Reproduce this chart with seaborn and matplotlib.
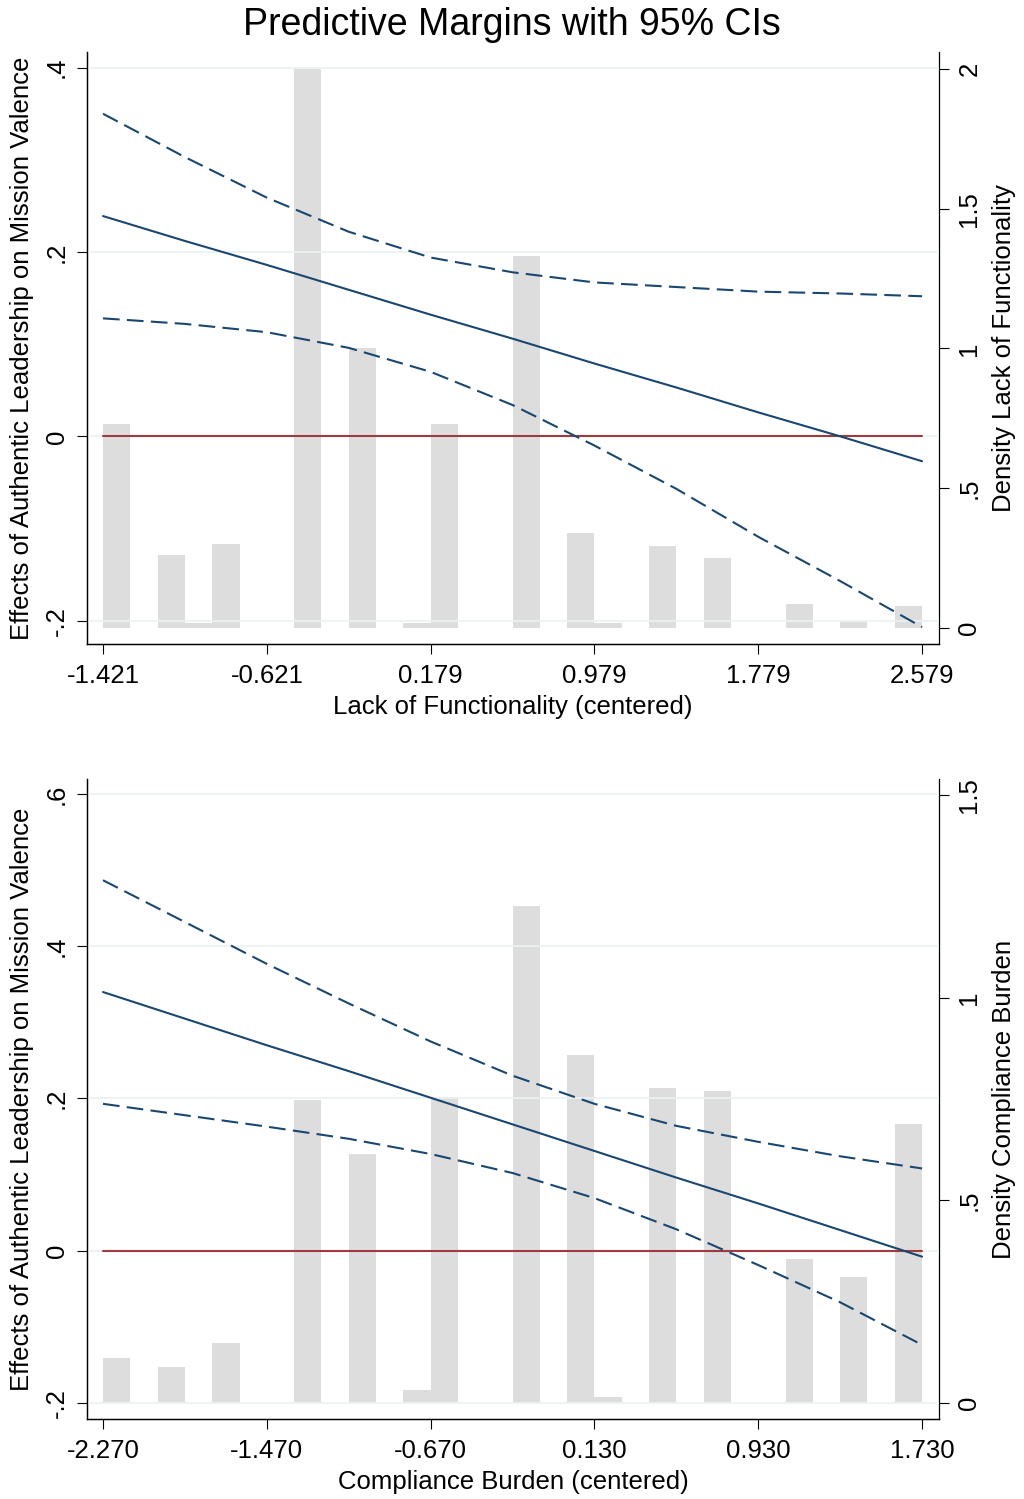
import numpy as np
import pandas as pd
import matplotlib
matplotlib.use("Agg")
import matplotlib.pyplot as plt
import seaborn as sns

# ---- data ----
# panel 1: lack of functionality
x1_ticks = [-1.421, -0.621, 0.179, 0.979, 1.779, 2.579]
x1_points = [-1.421, -1.021, -0.621, -0.221, 0.179, 0.579, 0.979, 1.379, 1.779, 2.179, 2.579]
margin1 = [0.239, 0.212, 0.186, 0.159, 0.132, 0.106, 0.079, 0.053, 0.026, 0.000, -0.027]
upper1 = [0.350, 0.303, 0.259, 0.222, 0.194, 0.178, 0.167, 0.162, 0.157, 0.155, 0.152]
lower1 = [0.128, 0.122, 0.113, 0.096, 0.070, 0.034, -0.010, -0.057, -0.109, -0.157, -0.207]
density1 = [0.73, 0, 0.26, 0.015, 0.30, 0, 0, 2.0, 0, 1.0,
            0, 0.015, 0.73, 0, 0, 1.33, 0, 0.34, 0.015, 0,
            0.294, 0, 0.251, 0, 0, 0.086, 0, 0.023, 0, 0.078]

# panel 2: compliance burden
x2_ticks = [-2.270, -1.470, -0.670, 0.130, 0.930, 1.730]
x2_points = [-2.270, -1.870, -1.470, -1.070, -0.670, -0.270, 0.130, 0.530, 0.930, 1.330, 1.730]
margin2 = [0.340, 0.305, 0.270, 0.236, 0.201, 0.166, 0.131, 0.096, 0.062, 0.027, -0.008]
upper2 = [0.487, 0.432, 0.377, 0.325, 0.275, 0.230, 0.193, 0.164, 0.143, 0.124, 0.108]
lower2 = [0.193, 0.178, 0.163, 0.147, 0.127, 0.102, 0.069, 0.028, -0.019, -0.068, -0.124]
density2 = [0.111, 0, 0.089, 0, 0.148, 0, 0, 0.748, 0, 0.615,
            0, 0.03, 0.755, 0, 0, 1.227, 0, 0.859, 0.015, 0,
            0.777, 0, 0.770, 0, 0, 0.355, 0, 0.311, 0, 0.689]
n_bins = 30

sns.set_style("white")
plt.rcParams['font.family'] = ['Liberation Sans', 'DejaVu Sans']
plt.rcParams['text.color'] = 'black'
plt.rcParams['axes.labelcolor'] = 'black'
plt.rcParams['xtick.color'] = 'black'
plt.rcParams['ytick.color'] = 'black'

navy = '#1a476f'
maroon = '#a03a40'
bar_grey = '#dddddd'
grid_col = '#eaf2f3'
dash = (0, (8, 3.5))
fs = 18.5

fig = plt.figure(figsize=(10.24, 14.99), dpi=100)
fig.suptitle("Predictive Margins with 95% CIs", fontsize=27, y=0.9955)


def fmt(v):
    if v == 0:
        return '0'
    return ('%g' % v).replace('0.', '.')


def panel(rect, xp, mid, up, lo, dens, xticks, xlab, rlab, ylim_l, ylim_r, yticks_l, yticks_r):
    ax = fig.add_axes(rect)
    ax2 = ax.twinx()
    ax.set_zorder(ax2.get_zorder() + 1)
    ax.patch.set_visible(False)

    # density histogram on right axis (bin midpoints weighted by the read densities)
    lo_x, hi_x = xticks[0], xticks[-1]
    width = (hi_x - lo_x) / n_bins
    mids = [lo_x + width * (i + 0.5) for i in range(n_bins)]
    hist = pd.DataFrame({'x': mids, 'w': [float(d) for d in dens]})
    sns.histplot(data=hist, x='x', weights='w', bins=n_bins, binrange=(lo_x, hi_x),
                 stat='count', ax=ax2, color=bar_grey, alpha=1, linewidth=0,
                 edgecolor='none')

    df = pd.DataFrame({'x': xp, 'mid': mid, 'up': up, 'lo': lo, 'zero': [0.0] * len(xp)})
    sns.lineplot(data=df, x='x', y='zero', ax=ax, color=maroon, lw=1.5)
    sns.lineplot(data=df, x='x', y='up', ax=ax, color=navy, lw=1.5, linestyle=dash)
    sns.lineplot(data=df, x='x', y='lo', ax=ax, color=navy, lw=1.5, linestyle=dash)
    sns.lineplot(data=df, x='x', y='mid', ax=ax, color=navy, lw=1.5)

    span = hi_x - lo_x
    ax.set_xlim(lo_x - span * 0.0195, hi_x + span * 0.0207)
    ax.set_ylim(*ylim_l)
    ax2.set_ylim(*ylim_r)

    ax.set_xticks(xticks)
    ax.set_xticklabels(['%.3f' % v for v in xticks])
    ax.set_yticks(yticks_l)
    ax.set_yticklabels([fmt(v) for v in yticks_l])
    ax2.set_yticks(yticks_r)
    ax2.set_yticklabels([fmt(v) for v in yticks_r])

    ax.yaxis.grid(True, color=grid_col, lw=1.3)
    ax.xaxis.grid(False)

    for a in (ax, ax2):
        a.spines['top'].set_visible(False)
        for s in a.spines.values():
            s.set_linewidth(0.9)
            s.set_color('black')
    ax.spines['right'].set_visible(False)

    ax.tick_params(axis='both', direction='out', length=7.2, width=0.8, labelsize=fs,
                   left=True, bottom=True, colors='black')
    ax.tick_params(axis='x', pad=7)
    ax.tick_params(axis='y', labelrotation=90, pad=6)
    ax2.tick_params(axis='y', direction='out', length=7.2, width=0.8, labelsize=fs,
                    right=True, labelrotation=90, pad=6, colors='black')
    for t in ax.get_yticklabels():
        t.set_va('center')
    for t in ax2.get_yticklabels():
        t.set_va('center')

    ax.set_xlabel(xlab, fontsize=fs, labelpad=5)
    ax.set_ylabel("Effects of Authentic Leadership on Mission Valence", fontsize=fs, labelpad=8)
    ax2.set_ylabel(rlab, fontsize=fs, labelpad=8)
    return ax, ax2


panel([0.085, 0.5704, 0.832, 0.3949], x1_points, margin1, upper1, lower1, density1,
      x1_ticks, "Lack of Functionality (centered)", "Density Lack of Functionality",
      (-0.2253, 0.417), (-0.0584, 2.062), [-0.2, 0, 0.2, 0.4], [0, 0.5, 1, 1.5, 2])

panel([0.085, 0.0532, 0.832, 0.4269], x2_points, margin2, upper2, lower2, density2,
      x2_ticks, "Compliance Burden (centered)", "Density Compliance Burden",
      (-0.2218, 0.6197), (-0.041, 1.5388), [-0.2, 0, 0.2, 0.4, 0.6], [0, 0.5, 1, 1.5])

fig.savefig("out.png", dpi=100)
